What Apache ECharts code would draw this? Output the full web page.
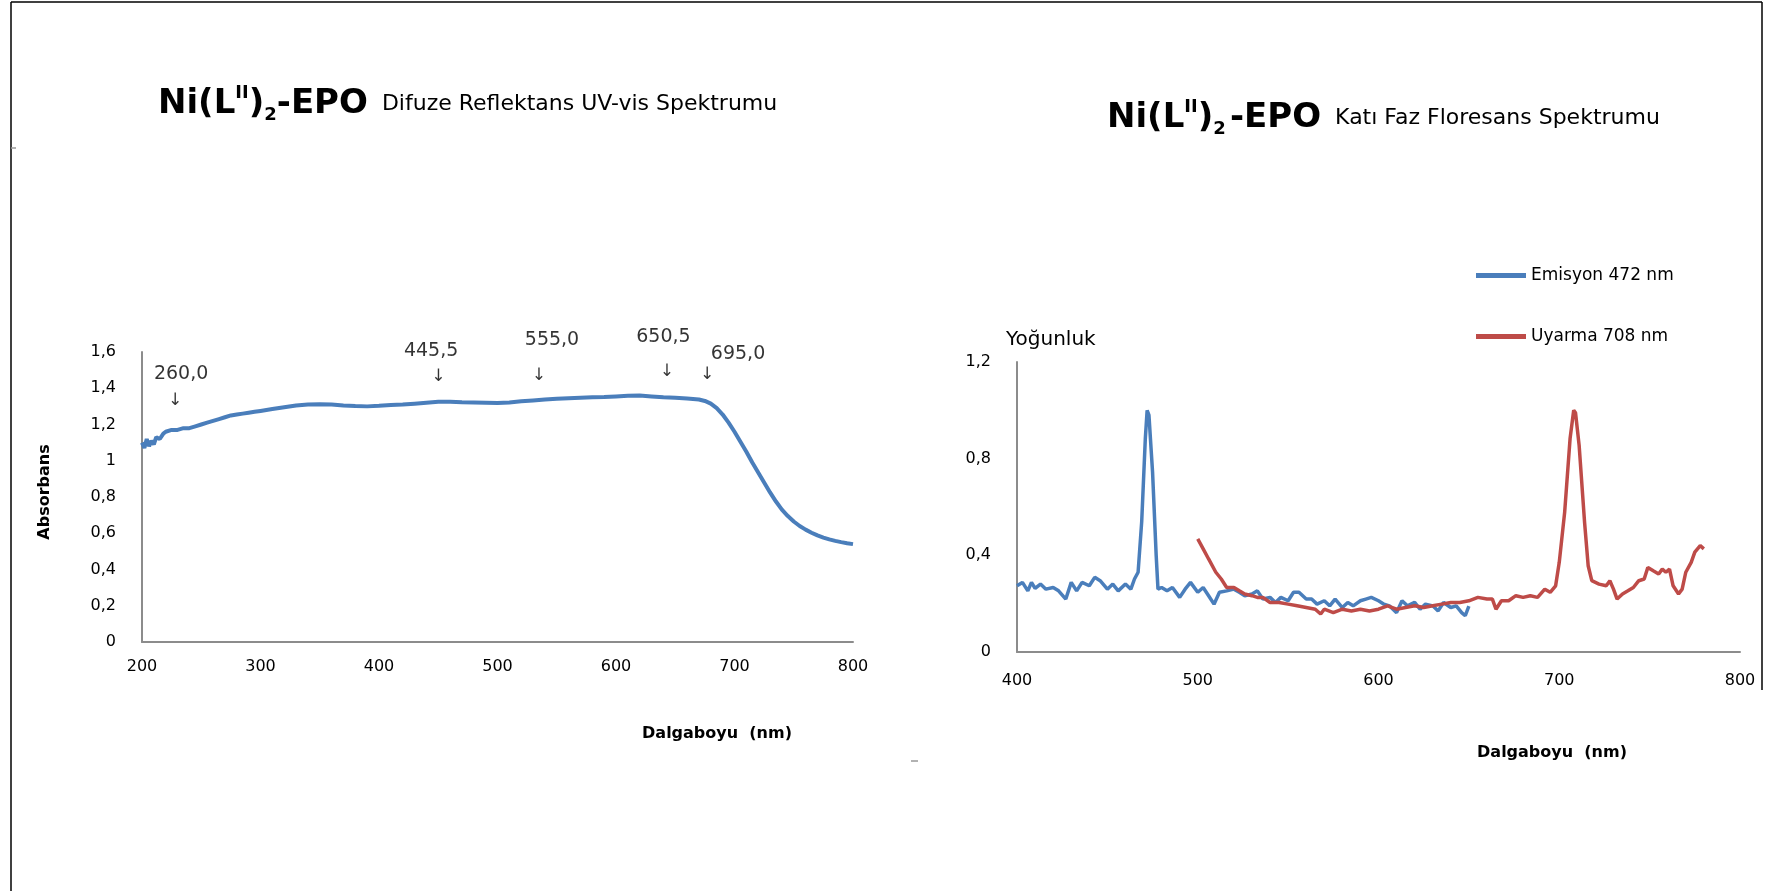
<!DOCTYPE html>
<html>
<head>
<meta charset="utf-8">
<script src="https://cdn.jsdelivr.net/npm/echarts@6/dist/echarts.min.js"></script>
<style>
html,body{margin:0;padding:0;background:#fff;}
#c{width:1766px;height:891px;}
</style>
</head>
<body>
<div id="c"></div>
<script>
// ---------- DATA ----------
// Left: diffuse reflectance UV-vis (Absorbans vs wavelength)
const uvX = [200,202,204,206,208,210,212,215,218,220,225,230,235,240,245,250,255,260,265,270,275,280,285,290,295,300,310,320,330,340,350,360,370,380,390,400,410,420,430,440,450,460,470,480,490,500,510,520,530,540,550,560,570,580,590,600,610,620,630,640,650,660,670,675,680,685,690,695,700,705,710,715,720,725,730,735,740,745,750,755,760,765,770,775,780,785,790,795,800];
const uvY = [1.10,1.07,1.12,1.08,1.11,1.09,1.13,1.12,1.15,1.16,1.17,1.17,1.18,1.18,1.19,1.20,1.21,1.22,1.23,1.24,1.25,1.255,1.26,1.265,1.27,1.275,1.285,1.295,1.305,1.31,1.312,1.31,1.305,1.302,1.30,1.303,1.308,1.31,1.315,1.32,1.325,1.325,1.323,1.322,1.32,1.318,1.322,1.328,1.333,1.338,1.342,1.345,1.348,1.35,1.352,1.355,1.358,1.36,1.355,1.35,1.347,1.343,1.338,1.33,1.315,1.29,1.255,1.21,1.16,1.105,1.05,0.99,0.935,0.88,0.825,0.775,0.73,0.695,0.665,0.64,0.62,0.603,0.588,0.576,0.566,0.558,0.551,0.545,0.54];

// Peak annotations (label text, label position, arrow position)
const peakLabels = ['260,0','445,5','555,0','650,5','695,0'];
const peakLabelX = [233,444,546,640,703];
const peakLabelY = [1.478,1.603,1.668,1.685,1.587];
const peakArrowX = [228,450,535,643,677];
const peakArrowY = [1.333,1.462,1.468,1.49,1.478];

// Right: solid phase fluorescence
const emX = [400,403,406,408,410,413,416,420,423,427,430,433,436,440,443,446,450,453,456,460,463,465,467,469,471,472,473,475,477,478,480,483,486,490,493,496,500,503,506,509,512,516,520,523,526,530,533,536,540,543,546,550,553,556,560,563,566,570,573,576,580,583,586,590,593,596,600,603,606,610,613,616,620,623,626,630,633,636,640,643,646,648,650];
const emY = [0.274,0.288,0.253,0.288,0.263,0.281,0.26,0.267,0.253,0.219,0.288,0.253,0.288,0.274,0.309,0.295,0.26,0.281,0.253,0.281,0.26,0.302,0.33,0.54,0.884,1.0,0.98,0.744,0.40,0.26,0.267,0.253,0.267,0.226,0.26,0.288,0.247,0.267,0.233,0.198,0.247,0.253,0.26,0.247,0.233,0.24,0.253,0.219,0.226,0.205,0.226,0.212,0.247,0.247,0.219,0.219,0.198,0.212,0.191,0.219,0.184,0.205,0.191,0.212,0.219,0.226,0.212,0.198,0.191,0.163,0.212,0.191,0.205,0.177,0.198,0.191,0.17,0.205,0.184,0.191,0.163,0.15,0.19];

const exX = [500,503,506,510,513,516,520,523,526,530,533,536,540,545,550,555,560,565,568,570,575,580,585,590,595,600,605,610,615,620,625,630,635,640,645,650,655,660,663,665,668,672,676,680,684,688,692,695,698,700,703,706,708,709,711,714,716,718,722,726,728,730,732,735,738,741,744,747,749,752,755,757,759,761,763,766,768,770,773,775,778,780];
const exY = [0.468,0.427,0.385,0.33,0.302,0.267,0.267,0.253,0.24,0.233,0.226,0.226,0.205,0.205,0.198,0.191,0.184,0.177,0.157,0.177,0.163,0.177,0.17,0.177,0.17,0.177,0.191,0.177,0.184,0.191,0.184,0.191,0.198,0.205,0.205,0.212,0.226,0.219,0.219,0.177,0.212,0.212,0.233,0.226,0.233,0.226,0.26,0.247,0.274,0.371,0.579,0.884,1.0,0.99,0.855,0.537,0.357,0.295,0.281,0.274,0.295,0.26,0.219,0.24,0.253,0.267,0.295,0.302,0.35,0.336,0.323,0.343,0.33,0.343,0.274,0.24,0.26,0.33,0.371,0.413,0.44,0.427];

const leftXTicks = [200,300,400,500,600,700,800];
const leftYTicks = [0,0.2,0.4,0.6,0.8,1,1.2,1.4,1.6];
const rightXTicks = [400,500,600,700,800];
const rightYTicks = [0,0.4,0.8,1.2];

const seriesNames = ['Emisyon 472 nm','Uyarma 708 nm'];
// ---------- END DATA ----------

const zip = (a,b)=>a.map((v,i)=>[v,b[i]]);
const FONT = "'DejaVu Sans', sans-serif";
const BLUE = '#4A7EBB', RED = '#BE4B48', AX = '#8c8c8c';
const comma = v => String(+v.toFixed(2)).replace('.', ',');

const chart = echarts.init(document.getElementById('c'), null, {renderer:'canvas'});

const titleRich = {
  b:{fontFamily:FONT,fontWeight:'bold',fontSize:34,lineHeight:40,color:'#000'},
  sup:{fontFamily:FONT,fontWeight:'bold',fontSize:18,lineHeight:26,verticalAlign:'top',color:'#000'},
  sub:{fontFamily:FONT,fontWeight:'bold',fontSize:18,lineHeight:18,verticalAlign:'bottom',color:'#000'},
  sp:{fontFamily:FONT,fontWeight:'bold',fontSize:12,lineHeight:40,color:'#000'},
  s:{fontFamily:FONT,fontSize:22,lineHeight:40,color:'#000'}
};

const option = {
  animation:false,
  backgroundColor:'#fff',
  grid:[
    {left:142, top:352, width:711, height:290, containLabel:false},
    {left:1017, top:362, width:723, height:290, containLabel:false}
  ],
  xAxis:[
    {gridIndex:0, type:'value', min:200, max:800, interval:100,
     axisLine:{lineStyle:{color:AX,width:2}}, axisTick:{show:false}, splitLine:{show:false},
     axisLabel:{margin:17, fontFamily:FONT, fontSize:16, color:'#000', formatter:v=>leftXTicks.includes(v)?String(v):''}},
    {gridIndex:1, type:'value', min:400, max:800, interval:100,
     axisLine:{lineStyle:{color:AX,width:2}}, axisTick:{show:false}, splitLine:{show:false},
     axisLabel:{margin:21, fontFamily:FONT, fontSize:16, color:'#000', formatter:v=>rightXTicks.includes(v)?String(v):''}}
  ],
  yAxis:[
    {gridIndex:0, type:'value', min:0, max:1.6, interval:0.2,
     axisLine:{show:true,lineStyle:{color:AX,width:2}}, axisTick:{show:false}, splitLine:{show:false},
     axisLabel:{margin:26, fontFamily:FONT, fontSize:16, color:'#000', formatter:v=>comma(v)}},
    {gridIndex:1, type:'value', min:0, max:1.2, interval:0.4,
     axisLine:{show:true,lineStyle:{color:AX,width:2}}, axisTick:{show:false}, splitLine:{show:false},
     axisLabel:{margin:26, fontFamily:FONT, fontSize:16, color:'#000', formatter:v=>comma(v)}}
  ],
  legend:{
    data:seriesNames, orient:'vertical', left:1471, top:262, itemGap:44,
    itemWidth:50, itemHeight:5, icon:'rect',
    textStyle:{fontFamily:FONT, fontSize:17, color:'#000'}
  },
  series:[
    {name:'Absorbans', type:'line', xAxisIndex:0, yAxisIndex:0, data:zip(uvX,uvY),
     showSymbol:false, symbol:'none', lineStyle:{color:BLUE,width:4}, itemStyle:{color:BLUE}},
    {name:'labels', type:'scatter', xAxisIndex:0, yAxisIndex:0, clip:false, symbolSize:1,
     itemStyle:{color:'rgba(0,0,0,0)'},
     data:peakLabels.map((t,i)=>({name:t, value:[peakLabelX[i],peakLabelY[i]]})),
     label:{show:true, position:'inside', formatter:p=>p.name, fontFamily:FONT, fontSize:19, color:'#000', textBorderWidth:0}},
    {name:'arrows', type:'scatter', xAxisIndex:0, yAxisIndex:0, clip:false, symbolSize:1,
     itemStyle:{color:'rgba(0,0,0,0)'},
     data:peakArrowX.map((x,i)=>[x,peakArrowY[i]]),
     label:{show:true, position:'inside', formatter:'↓', fontFamily:FONT, fontSize:17, color:'#000', textBorderWidth:0}},
    {name:seriesNames[0], type:'line', xAxisIndex:1, yAxisIndex:1, data:zip(emX,emY),
     showSymbol:false, symbol:'none', lineStyle:{color:BLUE,width:3.5}, itemStyle:{color:BLUE}},
    {name:seriesNames[1], type:'line', xAxisIndex:1, yAxisIndex:1, data:zip(exX,exY),
     showSymbol:false, symbol:'none', lineStyle:{color:RED,width:3.5}, itemStyle:{color:RED}}
  ],
  graphic:[
    // page frame
    {type:'line', shape:{x1:11,y1:2,x2:11,y2:891}, style:{stroke:'#000',lineWidth:1.5}},
    {type:'line', shape:{x1:11,y1:2,x2:1762,y2:2}, style:{stroke:'#000',lineWidth:1.5}},
    {type:'line', shape:{x1:1762,y1:2,x2:1762,y2:690}, style:{stroke:'#000',lineWidth:1.5}},
    {type:'line', shape:{x1:11,y1:148,x2:16,y2:148}, style:{stroke:'#999',lineWidth:1.5}},
    {type:'line', shape:{x1:911,y1:761,x2:918,y2:761}, style:{stroke:'#999',lineWidth:1.5}},
    // titles
    {type:'text', left:158, top:84, style:{
      text:'{b|Ni(L}{sup|II}{b|)}{sub|2}{b|-EPO}{s|  Difuze Reflektans UV-vis Spektrumu}', rich:titleRich}},
    {type:'text', left:1107, top:98, style:{
      text:'{b|Ni(L}{sup|II}{b|)}{sub|2}{sp| }{b|-EPO}{s|  Katı Faz Floresans Spektrumu}', rich:titleRich}},
    // axis titles
    {type:'text', x:45, y:492, rotation:Math.PI/2, style:{text:'Absorbans', fontFamily:FONT, fontWeight:'bold', fontSize:16, fill:'#000', align:'center', verticalAlign:'middle'}},
    {type:'text', x:717, y:734, style:{text:'Dalgaboyu  (nm)', fontFamily:FONT, fontWeight:'bold', fontSize:16, fill:'#000', align:'center', verticalAlign:'middle'}},
    {type:'text', x:1552, y:753, style:{text:'Dalgaboyu  (nm)', fontFamily:FONT, fontWeight:'bold', fontSize:16, fill:'#000', align:'center', verticalAlign:'middle'}},
    {type:'text', x:1006, y:340, style:{text:'Yoğunluk', fontFamily:FONT, fontSize:20, fill:'#000', align:'left', verticalAlign:'middle'}}
  ]
};
chart.setOption(option);
</script>
</body>
</html>
